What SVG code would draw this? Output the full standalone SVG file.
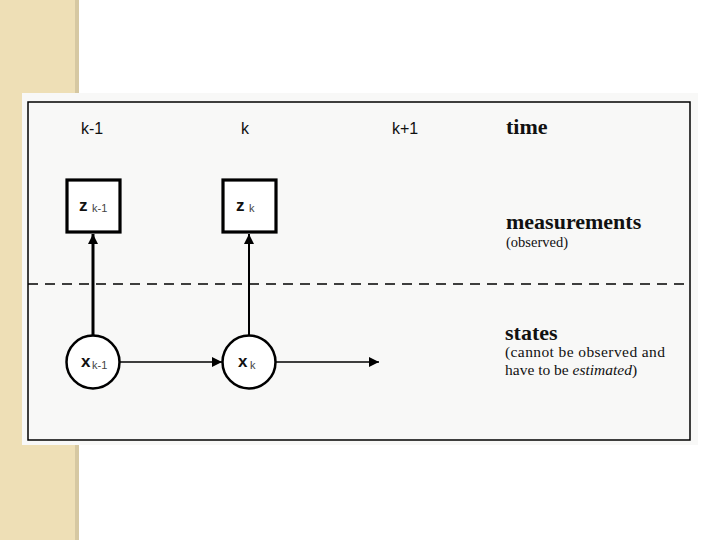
<svg xmlns="http://www.w3.org/2000/svg" width="720" height="540" viewBox="0 0 720 540">
<defs>
<marker id="ah" viewBox="0 0 10 10" refX="10" refY="5" markerWidth="10" markerHeight="10" markerUnits="userSpaceOnUse" orient="auto">
<path d="M0,0 L10,5 L0,10 z" fill="#000"/>
</marker>
<marker id="ahb" viewBox="0 0 10 10" refX="10" refY="5" markerWidth="10" markerHeight="12" markerUnits="userSpaceOnUse" orient="auto">
<path d="M0,0 L10,5 L0,10 z" fill="#000"/>
</marker>
</defs>
<style>
.sans{font-family:"Liberation Sans",Arial,sans-serif;fill:#111}
.serif{font-family:"Liberation Serif","Times New Roman",serif;fill:#111}
.node{fill:#fff;stroke:#000}
.lbl{font-family:"Liberation Sans",Arial,sans-serif;font-weight:bold;font-size:17px;fill:#111}
.sub{font-family:"Liberation Sans",Arial,sans-serif;font-size:11px;fill:#444}
</style>
<rect width="720" height="540" fill="#fff"/>
<rect x="0" y="0" width="78" height="540" fill="#EEDFB6"/>
<rect x="75" y="0" width="4" height="540" fill="#D6C8A2"/>
<rect x="22" y="93" width="676" height="352" fill="#f8f8f7"/>
<rect x="28" y="102" width="662" height="338" fill="none" stroke="#000" stroke-width="1.5"/>

<g id="labels">
<text class="sans" x="81" y="134" font-size="16">k-1</text>
<text class="sans" x="241" y="134" font-size="16">k</text>
<text class="sans" x="392" y="134" font-size="16">k+1</text>
<text class="serif" x="506" y="134" font-size="22" font-weight="bold">time</text>
<text class="serif" x="506" y="229" font-size="22" font-weight="bold">measurements</text>
<text class="serif" x="506" y="247" font-size="14.5">(observed)</text>
<text class="serif" x="505" y="340" font-size="22" font-weight="bold">states</text>
<text class="serif" x="505" y="357" font-size="15.5" textLength="160" lengthAdjust="spacing">(cannot be observed and</text>
<text class="serif" x="505" y="375" font-size="15.5">have to be <tspan font-style="italic">estimated</tspan>)</text>
</g>

<g id="connectors" stroke="#000" fill="none">
<line x1="28" y1="284" x2="690" y2="284" stroke-width="1.5" stroke-dasharray="10,7"/>
<line x1="93" y1="336" x2="93" y2="234" stroke-width="3" marker-end="url(#ahb)"/>
<line x1="249" y1="336" x2="249" y2="234" stroke-width="2" marker-end="url(#ahb)"/>
<line x1="120" y1="362" x2="222" y2="362" stroke-width="1.3" marker-end="url(#ah)"/>
<line x1="276" y1="362" x2="379" y2="362" stroke-width="1.3" marker-end="url(#ah)"/>
</g>

<g id="z_km1">
<rect class="node" x="67" y="180" width="53" height="52" stroke-width="3.2"/>
<text class="lbl" x="79" y="211">z</text><text class="sub" x="92" y="212">k-1</text>
</g>
<g id="z_k">
<rect class="node" x="223" y="180" width="53" height="52" stroke-width="3.2"/>
<text class="lbl" x="236" y="211">z</text><text class="sub" x="249" y="212">k</text>
</g>
<g id="x_km1">
<circle class="node" cx="93" cy="362" r="26.5" stroke-width="2.5"/>
<text class="lbl" x="81" y="367">x</text><text class="sub" x="92" y="369">k-1</text>
</g>
<g id="x_k">
<circle class="node" cx="249" cy="362" r="26.5" stroke-width="2.5"/>
<text class="lbl" x="238" y="367">x</text><text class="sub" x="250" y="369">k</text>
</g>
</svg>
